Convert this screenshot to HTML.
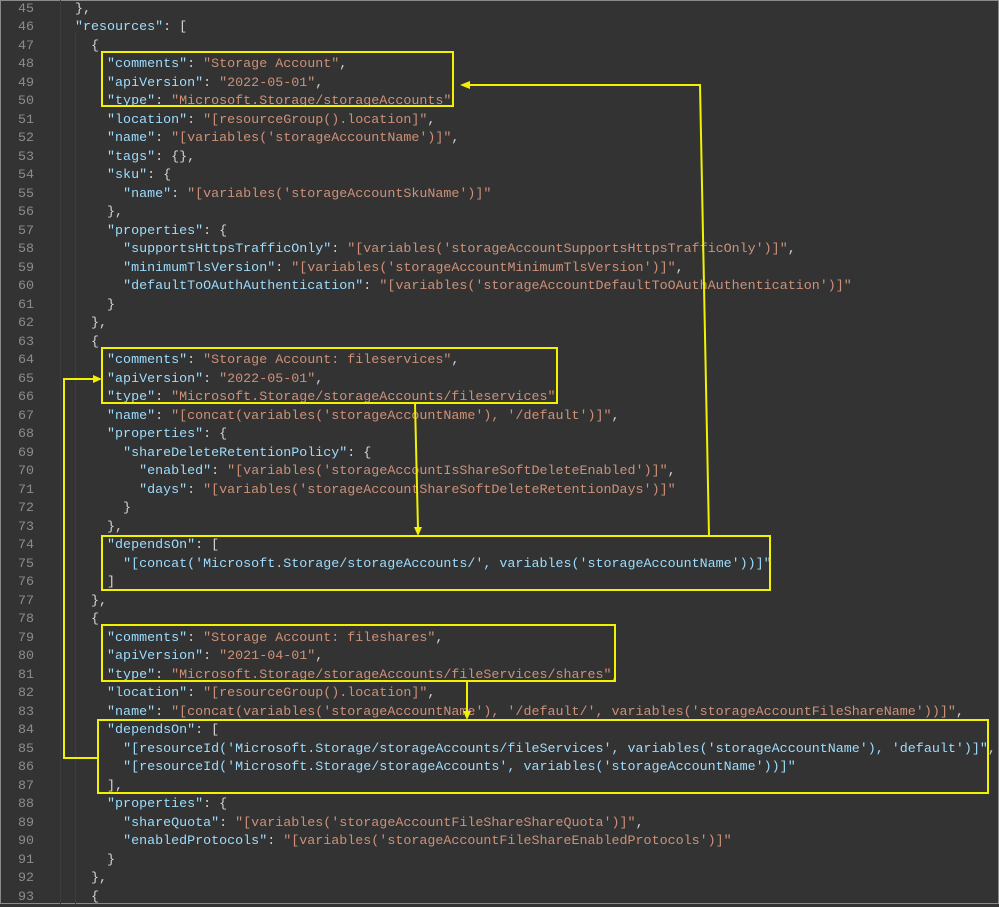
<!DOCTYPE html>
<html><head><meta charset="utf-8"><style>
html,body{margin:0;padding:0;}
body{width:999px;height:904px;background:#333333;position:relative;overflow:hidden;border:0;}
#frame{position:absolute;left:0;top:0;width:997px;height:902px;border:1px solid #8a8a8a;}
.ln{position:absolute;left:0;width:34px;text-align:right;color:#8c8c8c;}
.l{position:absolute;left:59px;white-space:pre;color:#d4d4d4;}
.ln,.l{font-family:"Liberation Mono",monospace;font-size:13.35px;line-height:18px;height:18px;}
.k{color:#9cdcfe}.s{color:#ce9178}
.g{position:absolute;width:1px;background:#3d3d3d;}
svg{position:absolute;left:0;top:0;}
</style></head><body><div id="frame"></div>
<div class="g" style="left:60px;top:0;height:904px"></div><div class="g" style="left:75px;top:32px;height:872px"></div>
<div id="code"></div>
<script>
var L=[
'  },',
'  <k>"resources"</k>: [',
'    {',
'      <k>"comments"</k>: <s>"Storage Account"</s>,',
'      <k>"apiVersion"</k>: <s>"2022-05-01"</s>,',
'      <k>"type"</k>: <s>"Microsoft.Storage/storageAccounts"</s>',
'      <k>"location"</k>: <s>"[resourceGroup().location]"</s>,',
'      <k>"name"</k>: <s>"[variables(\'storageAccountName\')]"</s>,',
'      <k>"tags"</k>: {},',
'      <k>"sku"</k>: {',
'        <k>"name"</k>: <s>"[variables(\'storageAccountSkuName\')]"</s>',
'      },',
'      <k>"properties"</k>: {',
'        <k>"supportsHttpsTrafficOnly"</k>: <s>"[variables(\'storageAccountSupportsHttpsTrafficOnly\')]"</s>,',
'        <k>"minimumTlsVersion"</k>: <s>"[variables(\'storageAccountMinimumTlsVersion\')]"</s>,',
'        <k>"defaultToOAuthAuthentication"</k>: <s>"[variables(\'storageAccountDefaultToOAuthAuthentication\')]"</s>',
'      }',
'    },',
'    {',
'      <k>"comments"</k>: <s>"Storage Account: fileservices"</s>,',
'      <k>"apiVersion"</k>: <s>"2022-05-01"</s>,',
'      <k>"type"</k>: <s>"Microsoft.Storage/storageAccounts/fileservices"</s>',
'      <k>"name"</k>: <s>"[concat(variables(\'storageAccountName\'), \'/default\')]"</s>,',
'      <k>"properties"</k>: {',
'        <k>"shareDeleteRetentionPolicy"</k>: {',
'          <k>"enabled"</k>: <s>"[variables(\'storageAccountIsShareSoftDeleteEnabled\')]"</s>,',
'          <k>"days"</k>: <s>"[variables(\'storageAccountShareSoftDeleteRetentionDays\')]"</s>',
'        }',
'      },',
'      <k>"dependsOn"</k>: [',
'        <k>"[concat(\'Microsoft.Storage/storageAccounts/\', variables(\'storageAccountName\'))]"</k>',
'      ]',
'    },',
'    {',
'      <k>"comments"</k>: <s>"Storage Account: fileshares"</s>,',
'      <k>"apiVersion"</k>: <s>"2021-04-01"</s>,',
'      <k>"type"</k>: <s>"Microsoft.Storage/storageAccounts/fileServices/shares"</s>,',
'      <k>"location"</k>: <s>"[resourceGroup().location]"</s>,',
'      <k>"name"</k>: <s>"[concat(variables(\'storageAccountName\'), \'/default/\', variables(\'storageAccountFileShareName\'))]"</s>,',
'      <k>"dependsOn"</k>: [',
'        <k>"[resourceId(\'Microsoft.Storage/storageAccounts/fileServices\', variables(\'storageAccountName\'), \'default\')]"</k>,',
'        <k>"[resourceId(\'Microsoft.Storage/storageAccounts\', variables(\'storageAccountName\'))]"</k>',
'      ],',
'      <k>"properties"</k>: {',
'        <k>"shareQuota"</k>: <s>"[variables(\'storageAccountFileShareShareQuota\')]"</s>,',
'        <k>"enabledProtocols"</k>: <s>"[variables(\'storageAccountFileShareEnabledProtocols\')]"</s>',
'      }',
'    },',
'    {'];
var h='';
for(var i=0;i<L.length;i++){
 var t=(7+i*18.49-6).toFixed(2);
 var c=L[i].replace(/<k>/g,'<span class="k">').replace(/<\/k>/g,'</span>').replace(/<s>/g,'<span class="s">').replace(/<\/s>/g,'</span>');
 h+='<div class="ln" style="top:'+t+'px">'+(45+i)+'</div><div class="l" style="top:'+t+'px">'+c+'</div>';
}
document.getElementById('code').innerHTML=h;
</script>
<svg width="999" height="904" viewBox="0 0 999 904">
<g fill="none" stroke="#f2f200" stroke-width="2">
<rect x="102" y="52" width="351" height="54"/>
<rect x="102" y="348" width="455" height="55"/>
<rect x="102" y="536" width="668" height="54"/>
<rect x="102" y="625" width="513" height="56"/>
<rect x="98" y="720" width="890" height="73"/>
<polyline points="709,536 700,85 468,85"/>
<line x1="415" y1="403" x2="418" y2="529"/>
<line x1="467" y1="681" x2="467" y2="713"/>
<polyline points="98,758 64,758 64,379 95,379"/>
</g>
<g fill="#f2f200">
<polygon points="460,85 470,81 470,89"/>
<polygon points="418,536 414,527 422,527"/>
<polygon points="467,720 463,711 471,711"/>
<polygon points="102,379 93,375 93,383"/>
</g>
</svg>
</body></html>
